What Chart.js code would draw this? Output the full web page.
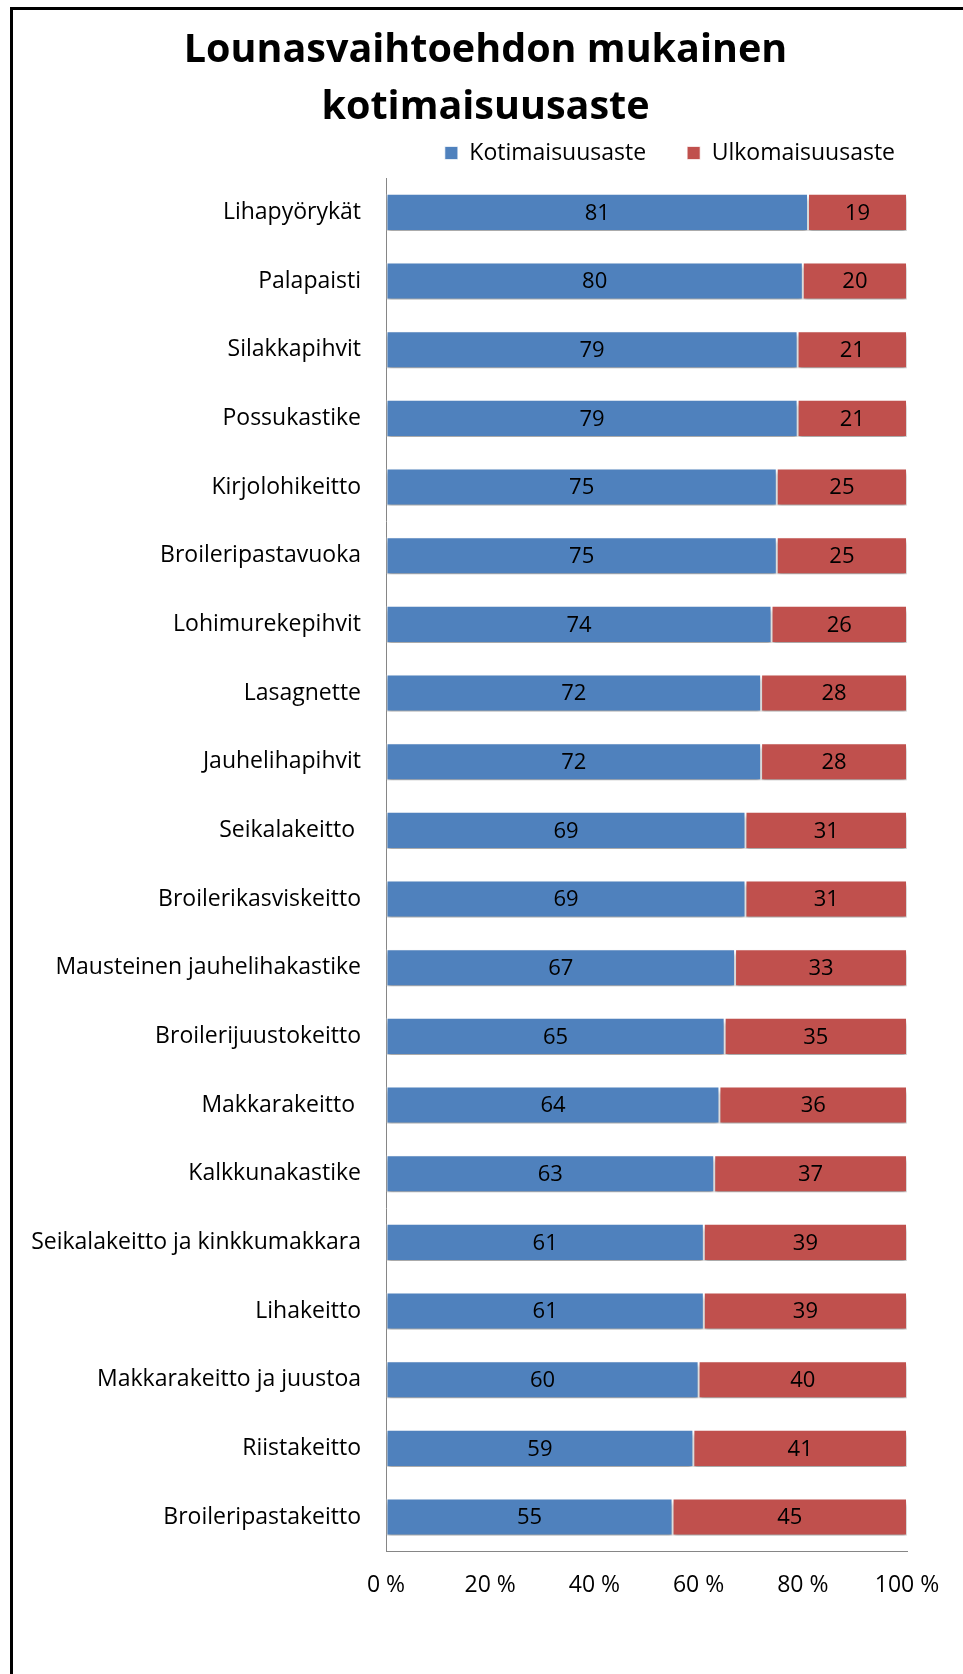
<!DOCTYPE html>
<html>
<head>
<meta charset="utf-8">
<script src="https://cdn.jsdelivr.net/npm/chart.js@4.4.1/dist/chart.umd.min.js"></script>
<style>
  html, body { margin: 0; padding: 0; background: #fff; overflow: hidden; }
  #wrap { position: relative; width: 963px; height: 1674px; }
  canvas { display: block; }
</style>
</head>
<body>
<div id="wrap"><canvas id="c" width="963" height="1674"></canvas></div>
<script>
const titleLines = ['Lounasvaihtoehdon mukainen', 'kotimaisuusaste'];
const seriesNames = ['Kotimaisuusaste', 'Ulkomaisuusaste'];
const categories = [
  'Lihapyörykät', 'Palapaisti', 'Silakkapihvit', 'Possukastike', 'Kirjolohikeitto',
  'Broileripastavuoka', 'Lohimurekepihvit', 'Lasagnette', 'Jauhelihapihvit', 'Seikalakeitto ',
  'Broilerikasviskeitto', 'Mausteinen jauhelihakastike', 'Broilerijuustokeitto', 'Makkarakeitto ',
  'Kalkkunakastike', 'Seikalakeitto ja kinkkumakkara', 'Lihakeitto', 'Makkarakeitto ja juustoa',
  'Riistakeitto', 'Broileripastakeitto'
];
const kotimaisuus = [81, 80, 79, 79, 75, 75, 74, 72, 72, 69, 69, 67, 65, 64, 63, 61, 61, 60, 59, 55];
const ulkomaisuus = [19, 20, 21, 21, 25, 25, 26, 28, 28, 31, 31, 33, 35, 36, 37, 39, 39, 40, 41, 45];
const xTickValues = [0, 20, 40, 60, 80, 100];

const FONT = "'Open Sans', 'DejaVu Sans', sans-serif";

const framePlugin = {
  id: 'frame',
  afterLayout(chart) {
    if (chart.legend) { chart.legend.top -= 3.5; chart.legend.bottom -= 3.5; }
  },
  beforeDraw(chart) {
    const ctx = chart.ctx;
    ctx.save();
    ctx.fillStyle = '#fff';
    ctx.fillRect(0, 0, chart.width, chart.height);
    ctx.fillStyle = '#000';
    ctx.fillRect(10, 7, chart.width, 3);
    ctx.fillRect(10, 7, 3, chart.height);
    ctx.restore();
  }
};

const barFx = {
  id: 'barFx',
  beforeDatasetsDraw(chart) {
    const ctx = chart.ctx;
    ctx.save();
    ctx.shadowColor = 'rgba(0,0,0,0.35)';
    ctx.shadowBlur = 4;
    ctx.shadowOffsetX = 0;
    ctx.shadowOffsetY = 4;
  },
  afterDatasetsDraw(chart) {
    const ctx = chart.ctx;
    ctx.restore();
    ctx.save();
    ctx.font = "22px " + FONT;
    ctx.fillStyle = '#000';
    ctx.textAlign = 'center';
    ctx.textBaseline = 'middle';
    chart.data.datasets.forEach((ds, i) => {
      const meta = chart.getDatasetMeta(i);
      meta.data.forEach((bar, j) => {
        const p = bar.getProps(['x', 'y', 'base'], true);
        const cx = (p.x + p.base) / 2;
        ctx.fillText(String(ds.data[j]), cx, p.y + 1);
      });
    });
    ctx.restore();
  }
};

new Chart(document.getElementById('c'), {
  type: 'bar',
  data: {
    labels: categories,
    datasets: [
      { label: seriesNames[0], data: kotimaisuus, backgroundColor: '#4F81BD',
        borderColor: 'rgba(255,255,255,0.7)', borderWidth: 1, borderSkipped: false,
        barPercentage: 0.54, categoryPercentage: 1 },
      { label: seriesNames[1], data: ulkomaisuus, backgroundColor: '#C0504D',
        borderColor: 'rgba(255,255,255,0.7)', borderWidth: 1, borderSkipped: false,
        barPercentage: 0.54, categoryPercentage: 1 }
    ]
  },
  options: {
    indexAxis: 'y',
    responsive: false,
    animation: false,
    devicePixelRatio: 1,
    layout: { padding: { left: 35, right: 27, top: 0, bottom: 55 } },
    plugins: {
      title: {
        display: true,
        text: titleLines,
        color: '#000',
        font: { family: FONT, size: 39.5, weight: 'bold', lineHeight: 1.443 },
        padding: { top: 22.5, bottom: -32.5 }
      },
      legend: {
        display: true,
        position: 'top',
        align: 'end',
        labels: {
          boxWidth: 13, boxHeight: 13, padding: 41,
          color: '#000',
          font: { family: FONT, size: 23 }
        }
      },
      tooltip: { enabled: false }
    },
    scales: {
      x: {
        stacked: true,
        min: 0, max: 100,
        afterBuildTicks(s) { s.ticks = xTickValues.map(v => ({ value: v })); },
        ticks: {
          color: '#000',
          font: { family: FONT, size: 23 },
          padding: 20,
          callback: v => v + ' %'
        },
        grid: { drawOnChartArea: false, drawTicks: false },
        border: { display: true, color: '#868686', width: 1 },
        afterFit(s) { s.paddingLeft = 0; s.paddingRight = 56; }
      },
      y: {
        stacked: true,
        ticks: {
          color: '#000',
          font: { family: FONT, size: 23 },
          padding: 25,
          autoSkip: false
        },
        grid: { drawOnChartArea: false, drawTicks: false },
        border: { display: true, color: '#868686', width: 1 },
        afterFit(s) {
          s.width = 351; s.paddingTop = 178; s.paddingBottom = 0;
          s._computeLabelArea = () => undefined;
        }
      }
    }
  },
  plugins: [framePlugin, barFx]
});
</script>
</body>
</html>
